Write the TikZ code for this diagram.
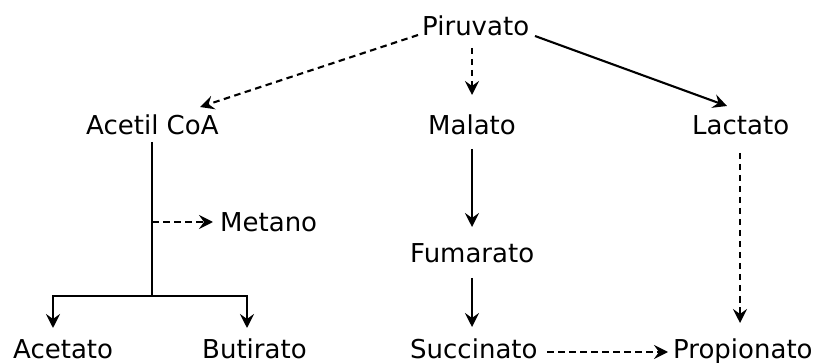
\documentclass[tikz,border=0pt]{standalone}
\usepackage{fontspec}
\setmainfont{DejaVu Sans}
\usetikzlibrary{arrows.meta,calc}
\begin{document}
\begin{tikzpicture}[x=1pt,y=-1pt,
  lbl/.style={anchor=base west,inner sep=0pt,font=\fontsize{26}{30}\selectfont},
  link/.style={line width=2.1pt,-{Stealth[length=14pt,width=14pt,inset=5pt]}},
  plain/.style={line width=2.1pt},
  dsh/.style={dash pattern=on 6.5pt off 4.5pt}]
\useasboundingbox (0,0) rectangle (819,363);
% metabolites
\node[lbl] (pir) at (422,36) {Piruvato};
\node[lbl] (aco) at (86,135) {Acetil CoA};
\node[lbl] (mal) at (428,135) {Malato};
\node[lbl] (lac) at (692,135) {Lactato};
\node[lbl] (met) at (220,232) {Metano};
\node[lbl] (fum) at (410,263) {Fumarato};
\node[lbl] (ace) at (13,358) {Acetato};
\node[lbl] (but) at (202,358) {Butirato};
\node[lbl] (suc) at (410,358) {Succinato};
\node[lbl] (pro) at (673,358) {Propionato};
% branch points of the acetyl-CoA pathway
\coordinate (fork) at (152,296);
\coordinate (side) at (152,222);
% reactions from pyruvate
\draw[link,dsh] ($(pir.base west)+(-4,-1)$) -- ($(aco.base west)+(114,-28)$);
\draw[link,dsh] ($(pir.base west)+(50,12)$) -- ($(mal.base west)+(44,-40)$);
\draw[link] ($(pir.base west)+(113,0)$) -- ($(lac.base west)+(35,-29)$);
% acetyl-CoA trunk and fork
\draw[plain] ($(aco.base west)+(66,7)$) -- (fork);
\draw[link,dsh] (side) -- ($(met.base west)+(-7,-10)$);
\draw[link] (fork) -| ($(ace.base west)+(40,-30)$);
\draw[link] (fork) -| ($(but.base west)+(45,-30)$);
% succinate route
\draw[link] ($(mal.base west)+(44,14)$) -- ($(fum.base west)+(62,-36)$);
\draw[link] ($(fum.base west)+(62,15)$) -- ($(suc.base west)+(62,-31)$);
% propionate
\draw[link,dsh] ($(lac.base west)+(48,18)$) -- ($(pro.base west)+(67,-35)$);
\draw[link,dsh] ($(suc.base west)+(137,-6)$) -- ($(pro.base west)+(-5,-6)$);
\end{tikzpicture}
\end{document}
